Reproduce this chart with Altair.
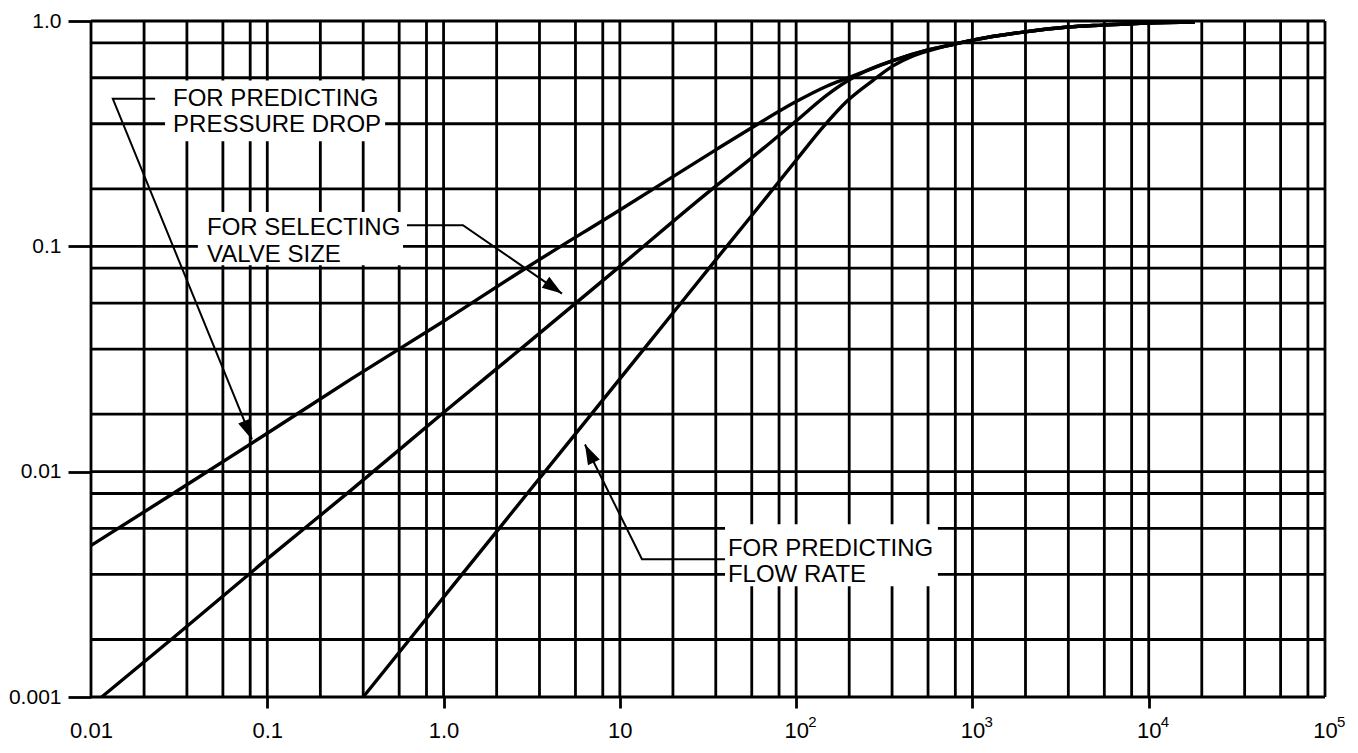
import math
import altair as alt
import pandas as pd

# ---------------- data ----------------
# grid: decade starts and the multipliers at which the chart draws lines
X_DECADES = [0.01, 0.1, 1, 10, 100, 1000, 10000]
X_MULT = [1, 2, 3.5, 5.6, 8]
X_END = 100000
Y_DECADES = [0.001, 0.01, 0.1]
Y_MULT = [1, 1.8, 3.5, 5.6, 8]
Y_END = 1.0

# axis labels
X_TICKS = [0.01, 0.1, 1, 10, 100, 1000, 10000, 100000]
X_LABELS = ["0.01", "0.1", "1.0", "10", "10", "10", "10", "10"]
EXP_AT = [100, 1000, 10000, 100000]
EXP_TEXT = ["2", "3", "4", "5"]
Y_TICKS = [0.001, 0.01, 0.1, 1.0]
Y_LABELS = ["0.001", "0.01", "0.1", "1.0"]

# curves
A_X = [0.01, 0.03, 0.1, 0.3, 1.0, 3.0, 10, 35, 56, 100, 150, 194, 250, 354, 552]
A_Y = [0.0047, 0.0081, 0.0148, 0.0258, 0.0465, 0.081, 0.145, 0.268, 0.336, 0.439, 0.515, 0.557, 0.601, 0.667, 0.742]
B_X = [0.0115, 0.03, 0.1, 0.3, 1.0, 3.0, 10, 35, 56, 100, 150, 194, 250, 354, 552]
B_Y = [0.001, 0.00186, 0.0041, 0.0083, 0.0183, 0.0372, 0.0815, 0.185, 0.247, 0.36, 0.47, 0.54, 0.601, 0.667, 0.742]
C_X = [0.35, 1.0, 3.0, 10, 20, 35, 56, 80, 100, 142, 194, 273, 354, 460, 654]
C_Y = [0.001, 0.00277, 0.00804, 0.0258, 0.0506, 0.0871, 0.137, 0.194, 0.241, 0.338, 0.44, 0.545, 0.632, 0.70, 0.762]
TAIL_X = [796, 1000, 1936, 3483, 5500, 9886, 18270]
TAIL_Y = [0.79, 0.822, 0.893, 0.94, 0.959, 0.98, 0.99]

# annotation texts (left x, baseline y in data units)
LABEL_TEXT = ["FOR PREDICTING", "PRESSURE DROP", "FOR SELECTING", "VALVE SIZE", "FOR PREDICTING", "FLOW RATE"]
LABEL_X = [0.0292, 0.0292, 0.0455, 0.0455, 41.0, 41.0]
LABEL_Y = [0.421, 0.321, 0.112, 0.0851, 0.00423, 0.00323]

# white boxes behind annotation texts
BOX_X1 = [0.0263, 0.0404, 39.5]
BOX_X2 = [0.466, 0.589, 637]
BOX_Y1 = [0.293, 0.0825, 0.0031]
BOX_Y2 = [0.544, 0.142, 0.00585]

# leader lines (last point = arrow tip)
LEADERS = {
    "pressure": ([0.0231, 0.0133, 0.0818], [0.4515, 0.4515, 0.0139]),
    "valve": ([0.620, 1.288, 4.696], [0.1242, 0.1242, 0.0617]),
    "flow": ([39.5, 13.35, 6.34], [0.00409, 0.00409, 0.0132]),
}

# ---------------- layout ----------------
W, H = 1234, 676
XD = [0.01, 100000]
YD = [0.001, 1.0]
FONT = "Liberation Sans, Arial, Helvetica, sans-serif"
LW = 2.8

px_per_dec_x = W / (math.log10(XD[1]) - math.log10(XD[0]))
px_per_dec_y = H / (math.log10(YD[1]) - math.log10(YD[0]))

x_grid = [d * m for d in X_DECADES for m in X_MULT] + [X_END]
y_grid = [d * m for d in Y_DECADES for m in Y_MULT] + [Y_END]

rows = []
for name, xs_, ys_, tail_from in [("A", A_X, A_Y, 0), ("B", B_X, B_Y, 0), ("C", C_X, C_Y, 1)]:
    for x, y in zip(xs_ + TAIL_X[tail_from:], ys_ + TAIL_Y[tail_from:]):
        rows.append({"curve": name, "x": x, "y": y})
curves = pd.DataFrame(rows)

lrows, arows = [], []
for name, (lx, ly) in LEADERS.items():
    for i, (x, y) in enumerate(zip(lx, ly)):
        lrows.append({"leader": name, "i": i, "x": x, "y": y})
    dx = (math.log10(lx[-1]) - math.log10(lx[-2])) * px_per_dec_x
    dy = -(math.log10(ly[-1]) - math.log10(ly[-2])) * px_per_dec_y
    ang = math.degrees(math.atan2(dx, -dy)) % 360
    arows.append({"x": lx[-1], "y": ly[-1], "ang": ang})
leaders = pd.DataFrame(lrows)
arrows = pd.DataFrame(arows)

labels = pd.DataFrame({"text": LABEL_TEXT, "x": LABEL_X, "y": LABEL_Y})
boxes = pd.DataFrame({"x": BOX_X1, "x2": BOX_X2, "y": BOX_Y1, "y2": BOX_Y2})
exps = pd.DataFrame({"x": EXP_AT, "text": EXP_TEXT})


def label_expr(values, texts):
    expr = "'" + texts[-1] + "'"
    for v, t in reversed(list(zip(values[:-1], texts[:-1]))):
        expr = f"datum.value < {v * 1.5} ? '{t}' : {expr}"
    return expr


xs = alt.Scale(type="log", domain=XD, nice=False)
ys = alt.Scale(type="log", domain=YD, nice=False)

xaxis = alt.Axis(
    values=X_TICKS, labelExpr=label_expr(X_TICKS, X_LABELS), title=None,
    domain=False, grid=False, tickSize=11, tickWidth=LW, tickColor="black",
    tickOpacity={"condition": {"test": "datum.value < 0.05 || datum.value > 50000", "value": 0}, "value": 1},
    labelFont=FONT, labelFontSize=22, labelColor="black", labelPadding=12,
    labelFlush=False, labelOverlap=False,
)
yaxis = alt.Axis(
    values=Y_TICKS, labelExpr=label_expr(Y_TICKS, Y_LABELS), title=None,
    domain=False, grid=False, tickSize=23, tickWidth=LW, tickColor="black",
    labelFont=FONT, labelFontSize=21, labelColor="black", labelPadding=7,
    labelFlush=False, labelOverlap=False,
)

vgrid = alt.Chart(pd.DataFrame({"x": x_grid})).mark_rule(color="black", strokeWidth=LW).encode(
    x=alt.X("x:Q", scale=xs, axis=xaxis)
)
hgrid = alt.Chart(pd.DataFrame({"y": y_grid})).mark_rule(color="black", strokeWidth=LW).encode(
    y=alt.Y("y:Q", scale=ys, axis=yaxis)
)
box_layer = alt.Chart(boxes).mark_rect(color="white", opacity=1).encode(
    x=alt.X("x:Q", scale=xs, axis=xaxis), x2="x2:Q",
    y=alt.Y("y:Q", scale=ys, axis=yaxis), y2="y2:Q",
)
curve_layer = alt.Chart(curves).mark_line(color="black", strokeWidth=3.4, interpolate="monotone").encode(
    x=alt.X("x:Q", scale=xs, axis=xaxis),
    y=alt.Y("y:Q", scale=ys, axis=yaxis),
    detail="curve:N",
)
leader_layer = alt.Chart(leaders).mark_line(color="black", strokeWidth=2).encode(
    x=alt.X("x:Q", scale=xs, axis=xaxis),
    y=alt.Y("y:Q", scale=ys, axis=yaxis),
    detail="leader:N",
    order="i:Q",
)
arrow_layer = alt.Chart(arrows).mark_point(
    shape="M0,0L0.33,1L-0.33,1Z", filled=True, color="black", opacity=1, size=1600, strokeWidth=0
).encode(
    x=alt.X("x:Q", scale=xs, axis=xaxis),
    y=alt.Y("y:Q", scale=ys, axis=yaxis),
    angle=alt.Angle("ang:Q", scale=None),
)
text_layer = alt.Chart(labels).mark_text(
    align="left", baseline="alphabetic", font=FONT, fontSize=24, color="black"
).encode(
    x=alt.X("x:Q", scale=xs, axis=xaxis),
    y=alt.Y("y:Q", scale=ys, axis=yaxis),
    text="text:N",
)
# exponents of the power-of-ten tick labels
exp_layer = alt.Chart(exps).mark_text(
    align="left", baseline="top", font=FONT, fontSize=15, color="black", dx=12
).encode(
    x=alt.X("x:Q", scale=xs, axis=xaxis),
    y=alt.value(H + 18),
    text="text:N",
)

chart = alt.layer(
    vgrid, hgrid, box_layer, curve_layer, leader_layer, arrow_layer, text_layer, exp_layer
).properties(
    width=W, height=H,
    autosize=alt.AutoSizeParams(type="none"),
    padding={"left": 83, "top": 13, "right": 25, "bottom": 48},
    background="white",
).configure_view(stroke=None)

chart.save("out.html", embed_options={"renderer": "svg", "actions": False})
